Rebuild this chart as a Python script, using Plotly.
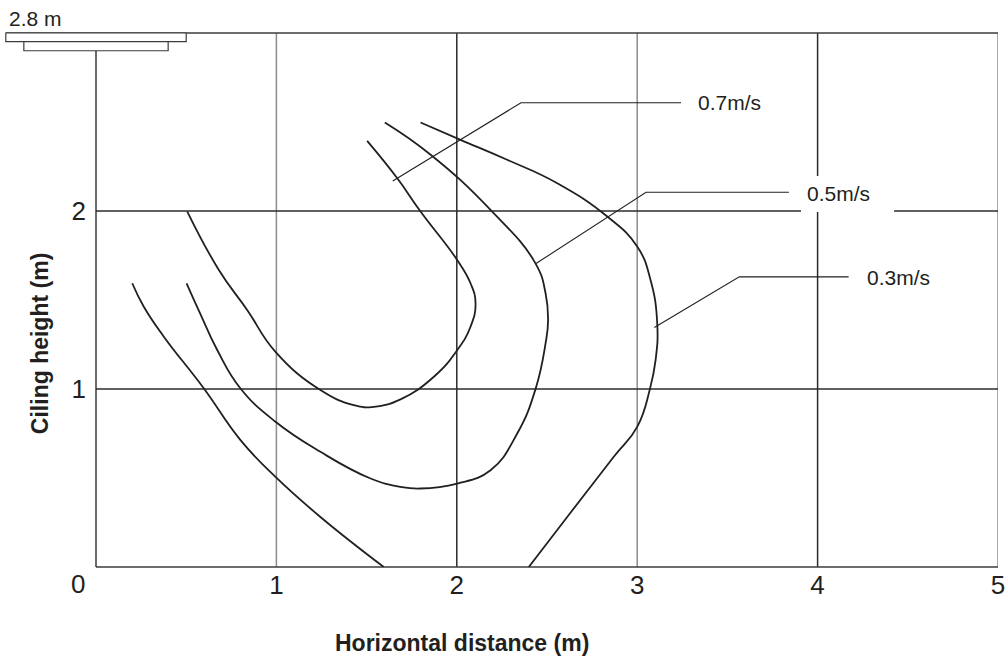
import plotly.graph_objects as go

# ---- data ----
x_ticks = [1, 2, 3, 4, 5]
x_tick_text = ["1", "2", "3", "4", "5"]
y_ticks = [1, 2]
y_tick_text = ["1", "2"]

v07_x = [1.503, 1.670, 1.799, 2.002, 2.076, 2.104, 2.076, 2.002, 1.873, 1.688, 1.540, 1.429, 1.244, 0.995, 0.838, 0.681, 0.506]
v07_y = [2.394, 2.184, 1.997, 1.725, 1.594, 1.481, 1.350, 1.218, 1.069, 0.942, 0.900, 0.909, 0.994, 1.209, 1.444, 1.669, 1.997]

v05_x = [1.601, 1.855, 2.187, 2.436, 2.492, 2.506, 2.492, 2.436, 2.335, 2.187, 2.002, 1.798, 1.688, 1.522, 1.244, 0.995, 0.801, 0.672, 0.577, 0.502]
v05_y = [2.497, 2.316, 2.006, 1.706, 1.538, 1.388, 1.256, 0.998, 0.750, 0.544, 0.469, 0.441, 0.450, 0.497, 0.647, 0.816, 1.003, 1.219, 1.425, 1.594]

v03_right_x = [1.799, 2.021, 2.279, 2.557, 2.834, 3.000, 3.074, 3.111, 3.102, 3.070, 3.000, 2.870, 2.612, 2.399]
v03_right_y = [2.497, 2.400, 2.288, 2.156, 1.969, 1.800, 1.612, 1.369, 1.162, 0.998, 0.787, 0.619, 0.281, 0.0]
v03_left_x = [0.201, 0.265, 0.376, 0.598, 0.801, 0.995, 1.244, 1.595]
v03_left_y = [1.594, 1.462, 1.294, 1.003, 0.713, 0.506, 0.281, 0.0]

# leader lines: curve point -> elbow -> end of horizontal
lead07_x = [1.645, 2.356, 3.243]
lead07_y = [2.169, 2.608, 2.608]
lead05_x = [2.439, 3.049, 3.841]
lead05_y = [1.705, 2.105, 2.105]
lead03_x = [3.095, 3.566, 4.172]
lead03_y = [1.345, 1.630, 1.630]

labels = ["0.7m/s", "0.5m/s", "0.3m/s"]
label_x = [3.326, 3.930, 4.263]
label_y = [2.608, 2.100, 1.627]

FONT = "Liberation Sans, Arial, sans-serif"
INK = "#231f20"

fig = go.Figure()

curve_line = dict(color=INK, width=1.8, shape="spline", smoothing=1.3)
for xs, ys in [(v07_x, v07_y), (v05_x, v05_y), (v03_right_x, v03_right_y), (v03_left_x, v03_left_y)]:
    fig.add_trace(go.Scatter(x=xs, y=ys, mode="lines", line=curve_line, hoverinfo="skip", showlegend=False))

for xs, ys in [(lead07_x, lead07_y), (lead05_x, lead05_y), (lead03_x, lead03_y)]:
    fig.add_trace(go.Scatter(x=xs, y=ys, mode="lines", line=dict(color=INK, width=1.1), hoverinfo="skip", showlegend=False))

shapes = []
DARK = "#2b2b2b"
GRAY = "#8c8c8c"
vcolors = {1: GRAY, 2: DARK, 3: GRAY, 4: DARK, 5: GRAY}
for xv in x_ticks:
    shapes.append(dict(type="line", xref="x", yref="paper", x0=xv, x1=xv, y0=0, y1=1,
                       line=dict(color=vcolors[xv], width=1.5), layer="below"))
for yv in y_ticks:
    shapes.append(dict(type="line", xref="paper", yref="y", x0=0, x1=1, y0=yv, y1=yv,
                       line=dict(color=DARK, width=1.3), layer="below"))
# bottom border
shapes.append(dict(type="line", xref="paper", yref="paper", x0=0, x1=1, y0=0, y1=0,
                   line=dict(color="#3c3c3c", width=1.6), layer="below"))
# left border (below the ceiling unit)
shapes.append(dict(type="line", xref="paper", yref="paper", x0=0, x1=0, y0=0, y1=0.9668,
                   line=dict(color=DARK, width=1.4), layer="below"))
# top border
shapes.append(dict(type="line", xref="paper", yref="paper", x0=-0.1, x1=1, y0=1, y1=1,
                   line=dict(color="#3c3c3c", width=1.4)))
# ceiling unit
shapes.append(dict(type="rect", xref="paper", yref="paper", x0=-0.1, x1=0.1, y0=0.9837, y1=1.0,
                   line=dict(color="#3c3c3c", width=1.2), fillcolor="white"))
shapes.append(dict(type="rect", xref="paper", yref="paper", x0=-0.08, x1=0.08, y0=0.9668, y1=0.9837,
                   line=dict(color="#3c3c3c", width=1.2), fillcolor="white"))
# white background behind the 0.5m/s label
shapes.append(dict(type="rect", xref="x", yref="y", x0=3.908, x1=4.424, y0=1.994, y1=2.197,
                   line=dict(width=0), fillcolor="white", layer="above"))

annotations = []
for t, ax, ay in zip(labels, label_x, label_y):
    annotations.append(dict(text=t, x=ax, y=ay, xref="x", yref="y", xanchor="left", yanchor="middle",
                            showarrow=False, font=dict(family=FONT, size=21, color=INK)))
annotations.append(dict(text="2.8 m", x=-0.0985, y=1.028, xref="paper", yref="paper",
                        xanchor="left", yanchor="middle", showarrow=False,
                        font=dict(family=FONT, size=21, color=INK)))
annotations.append(dict(text="0", x=-0.02, y=-0.032, xref="paper", yref="paper",
                        xanchor="center", yanchor="middle", showarrow=False,
                        font=dict(family=FONT, size=26, color=INK)))
annotations.append(dict(text="<b>Horizontal distance (m)</b>", x=0.406, y=-0.143, xref="paper", yref="paper",
                        xanchor="center", yanchor="middle", showarrow=False,
                        font=dict(family=FONT, size=23, color=INK)))
annotations.append(dict(text="<b>Ciling height (m)</b>", x=-0.062, y=0.4175, xref="paper", yref="paper",
                        xanchor="center", yanchor="middle", showarrow=False, textangle=-90,
                        font=dict(family=FONT, size=23, color=INK)))

fig.update_layout(
    width=1006, height=660,
    margin=dict(l=96, r=8, t=33, b=93, autoexpand=False),
    paper_bgcolor="white", plot_bgcolor="white",
    shapes=shapes, annotations=annotations,
    showlegend=False,
    xaxis=dict(range=[0, 5], tickmode="array", tickvals=x_ticks, ticktext=x_tick_text,
               showgrid=False, zeroline=False, showline=False, ticks="", automargin=False,
               tickfont=dict(family=FONT, size=26, color=INK), ticklabelstandoff=0),
    yaxis=dict(range=[0, 3], tickmode="array", tickvals=y_ticks, ticktext=y_tick_text,
               showgrid=False, zeroline=False, showline=False, ticks="", automargin=False,
               tickfont=dict(family=FONT, size=26, color=INK), ticklabelstandoff=9),
)

fig.write_html("out.html", config={"displayModeBar": False},
               post_script="document.body.style.margin='0';document.body.style.overflow='hidden';")
